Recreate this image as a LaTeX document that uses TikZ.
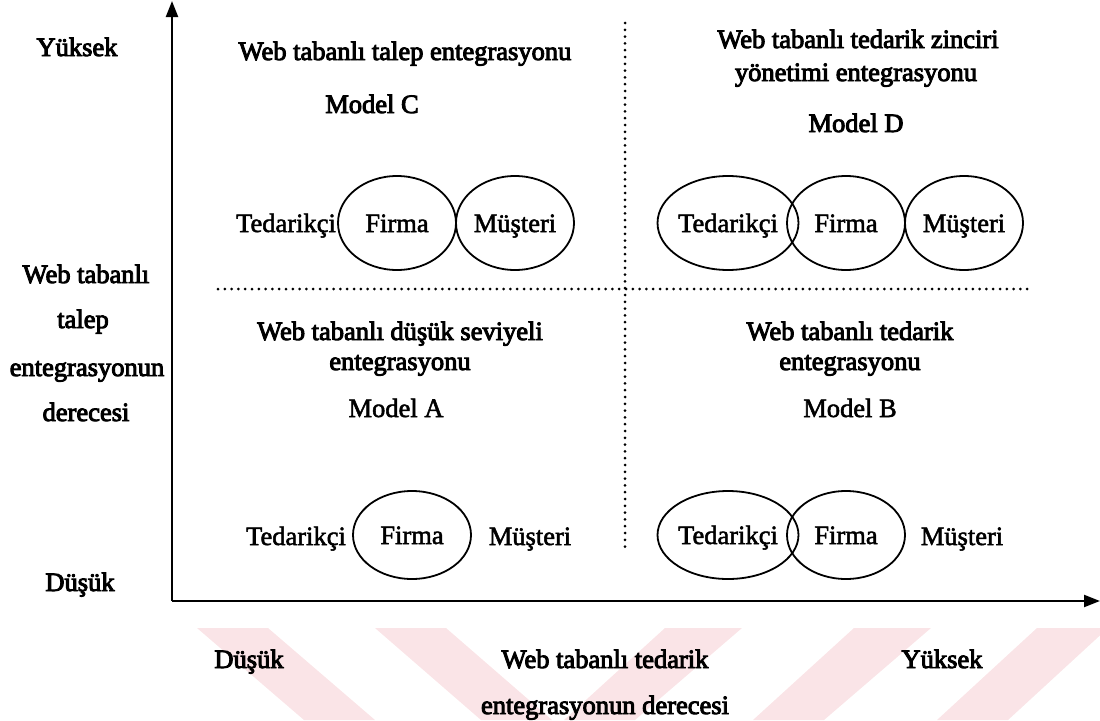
\documentclass[tikz,border=0pt]{standalone}
\usepackage{fontspec}
\setmainfont{Liberation Serif}
\newfontfamily\heavyfont[FakeBold=3.5]{Liberation Serif}
\newfontfamily\plainfont[FakeBold=2]{Liberation Serif}
\usetikzlibrary{arrows.meta,shapes.geometric}

\definecolor{wmpink}{RGB}{250,228,231}

\begin{document}
\begin{tikzpicture}[x=1pt,y=-1pt,
  lbl/.style={font=\plainfont\fontsize{26.5}{30}\selectfont, inner sep=0pt, anchor=base},
  ttl/.style={font=\heavyfont\fontsize{26.5}{30}\selectfont, inner sep=0pt, anchor=base},
  ring/.style={draw, line width=1.8pt, ellipse, inner sep=0pt, text height=18pt, text depth=0pt,
               font=\plainfont\fontsize{26.5}{30}\selectfont},
  ringtop/.style={ring, minimum width=118pt, minimum height=94pt},
  ringlow/.style={ring, minimum width=118pt, minimum height=88pt},
  axis/.style={line width=2.2pt, -{Triangle[length=16pt,width=12pt]}},
  dots/.style={line width=3pt, line cap=round, dash pattern=on 0pt off 6.8pt}]
\useasboundingbox (0,0) rectangle (1100,720);

% faint diagonal bands along the bottom edge
\begin{scope}[wmpink]
  \fill (197,628) -- (268,628) -- (375,720) -- (304,720) -- cycle;
  \fill (375,628) -- (446,628) -- (552,720) -- (481,720) -- cycle;
  \fill (665,628) -- (742,628) -- (635,720) -- (564,720) -- cycle;
  \fill (854,628) -- (931,628) -- (824,720) -- (753,720) -- cycle;
  \fill (1037,628) -- (1108,628) -- (1008,720) -- (937,720) -- cycle;
\end{scope}

% axes
\coordinate (O) at (172,601);
\coordinate (ytop) at (172,1);
\coordinate (xend) at (1100,601);
\draw[axis] (O) -- (ytop);
\draw[axis] (O) -- (xend);

% quadrant separators
\coordinate (vtop) at (625,23);
\coordinate (vbot) at (625,552);
\coordinate (hleft) at (218,289);
\coordinate (hright) at (1033,289);
\draw[dots] (vtop) -- (vbot);
\draw[dots] (hleft) -- (hright);

% vertical axis labels
\node[ttl] (yHigh) at (77,56) {Yüksek};
\node[ttl] (yT1) at (86,283) {Web tabanlı};
\node[ttl] (yT2) at (83,328) {talep};
\node[ttl] (yT3) at (87,376) {entegrasyonun};
\node[ttl] (yT4) at (86,421) {derecesi};
\node[ttl] (yLow) at (80,591) {Düşük};

% horizontal axis labels
\node[ttl] (xLow) at (249,668) {Düşük};
\node[ttl] (xT1) at (605,668) {Web tabanlı tedarik};
\node[ttl] (xT2) at (605,714) {entegrasyonun derecesi};
\node[ttl] (xHigh) at (942,668) {Yüksek};

% Model C
\node[ttl] (cT) at (405,60) {Web tabanlı talep entegrasyonu};
\node[ttl] (cM) at (372,113) {Model C};
\node[lbl] (cS) at (286,232) {Tedarikçi};
\node[ringtop] (cF) at (397,223) {Firma};
\node[ringtop] (cC) at (515,223) {Müşteri};

% Model D
\node[ttl] (dT1) at (858,48) {Web tabanlı tedarik zinciri};
\node[ttl] (dT2) at (856,81) {yönetimi entegrasyonu};
\node[ttl] (dM) at (856,132) {Model D};
\node[ringtop] (dS) at (728,223) {Tedarikçi};
\node[ringtop] (dF) at (846,223) {Firma};
\node[ringtop] (dC) at (964,223) {Müşteri};

% Model A
\node[ttl] (aT1) at (400,340) {Web tabanlı düşük seviyeli};
\node[ttl] (aT2) at (400,370) {entegrasyonu};
\node[lbl] (aM) at (396,417) {Model A};
\node[lbl] (aS) at (296,545) {Tedarikçi};
\node[ringlow] (aF) at (412,535) {Firma};
\node[lbl] (aC) at (530,545) {Müşteri};

% Model B
\node[ttl] (bT1) at (850,340) {Web tabanlı tedarik};
\node[ttl] (bT2) at (850,370) {entegrasyonu};
\node[lbl] (bM) at (850,417) {Model B};
\node[ringlow] (bS) at (728,535) {Tedarikçi};
\node[ringlow] (bF) at (846,535) {Firma};
\node[lbl] (bC) at (962,545) {Müşteri};
\end{tikzpicture}
\end{document}
